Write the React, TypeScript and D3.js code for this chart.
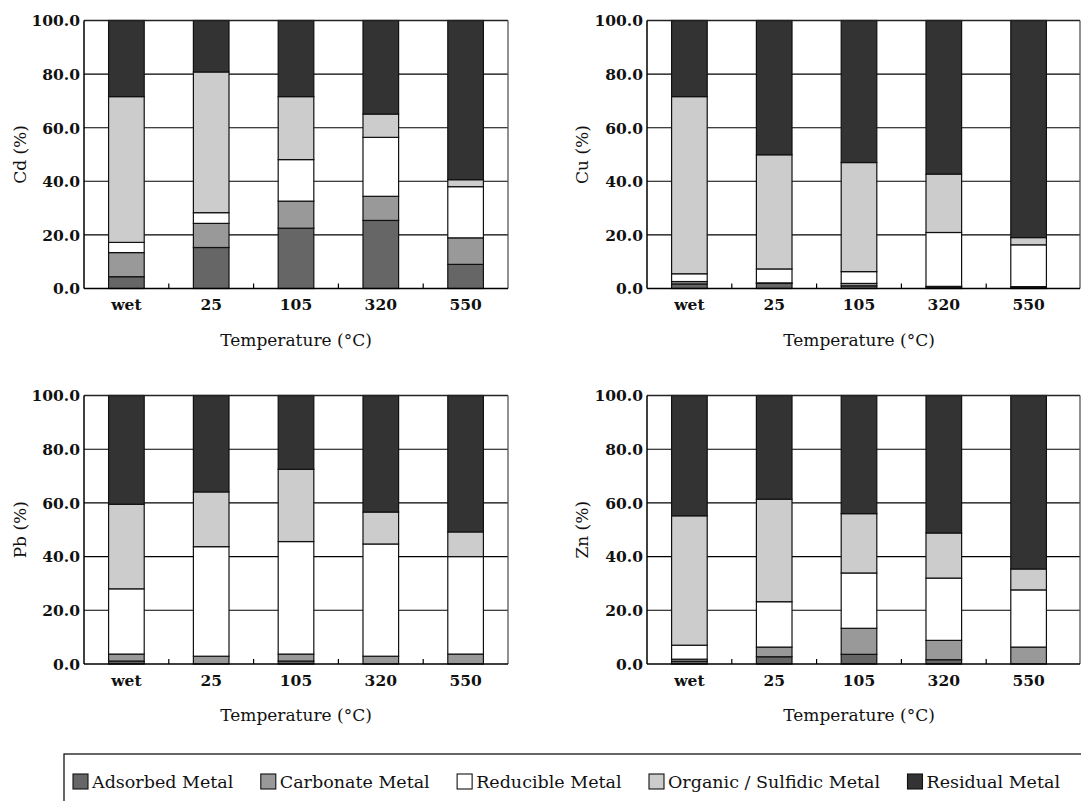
import React, { useEffect, useRef } from 'react';
import * as d3 from 'd3';

const categories = ['wet', '25', '105', '320', '550'];
const fractionNames = ['Adsorbed Metal', 'Carbonate Metal', 'Reducible Metal', 'Organic / Sulfidic Metal', 'Residual Metal'];
const fractionColors = ['#666666', '#999999', '#ffffff', '#cccccc', '#333333'];
const yTicks = [0, 20, 40, 60, 80, 100];
const xTitle = 'Temperature (°C)';

const cdAdsorbed = [4.4, 15.3, 22.5, 25.4, 9.0];
const cdCarbonate = [9.0, 9.0, 10.1, 9.0, 9.9];
const cdReducible = [3.8, 4.0, 15.5, 22.0, 19.1];
const cdOrganic = [54.4, 52.5, 23.5, 8.7, 2.6];
const cdResidual = [28.4, 19.2, 28.4, 34.9, 59.4];

const cuAdsorbed = [1.7, 1.9, 1.0, 0.5, 0.3];
const cuCarbonate = [0.9, 0.2, 0.9, 0.3, 0.4];
const cuReducible = [2.9, 5.2, 4.4, 20.1, 15.6];
const cuOrganic = [66.1, 42.6, 40.7, 21.8, 2.7];
const cuResidual = [28.4, 50.1, 53.0, 57.3, 81.0];

const pbAdsorbed = [1.1, 0, 1.1, 0, 0];
const pbCarbonate = [2.6, 2.9, 2.6, 2.9, 3.7];
const pbReducible = [24.3, 40.8, 41.9, 41.8, 36.3];
const pbOrganic = [31.5, 20.4, 26.9, 11.9, 9.2];
const pbResidual = [40.5, 35.9, 27.5, 43.4, 50.8];

const znAdsorbed = [1.0, 2.7, 3.6, 1.6, 0];
const znCarbonate = [0.8, 3.6, 9.7, 7.2, 6.3];
const znReducible = [5.2, 16.9, 20.6, 23.2, 21.3];
const znOrganic = [48.2, 38.2, 22.1, 16.8, 7.8];
const znResidual = [44.8, 38.6, 44.0, 51.2, 64.6];

const panels = [
  { label: 'Cd (%)', series: [cdAdsorbed, cdCarbonate, cdReducible, cdOrganic, cdResidual] },
  { label: 'Cu (%)', series: [cuAdsorbed, cuCarbonate, cuReducible, cuOrganic, cuResidual] },
  { label: 'Pb (%)', series: [pbAdsorbed, pbCarbonate, pbReducible, pbOrganic, pbResidual] },
  { label: 'Zn (%)', series: [znAdsorbed, znCarbonate, znReducible, znOrganic, znResidual] },
];

const W = 1081;
const H = 801;
const FONT = "'DejaVu Serif', serif";

export default function App() {
  const ref = useRef<SVGSVGElement>(null);

  useEffect(() => {
    const svg = d3.select(ref.current);
    svg.selectAll('*').remove();
    svg.append('rect').attr('width', W).attr('height', H).attr('fill', '#fff');

    const layouts = [
      { left: 84, right: 508, top: 20.5, bottom: 288.5, frameRight: 508, labelX: 20 },
      { left: 647, right: 1071, top: 20.5, bottom: 288.5, frameRight: 1080, labelX: 582 },
      { left: 84, right: 508, top: 395.5, bottom: 664, frameRight: 508, labelX: 20 },
      { left: 647, right: 1071, top: 395.5, bottom: 664, frameRight: 1080, labelX: 582 },
    ];

    panels.forEach((p, i) => {
      const L = layouts[i];
      const x = d3.scaleBand<string>().domain(categories).range([L.left, L.right]).paddingInner(0.58).paddingOuter(0.29);
      const y = d3.scaleLinear().domain([0, 100]).range([L.bottom, L.top]);
      const g = svg.append('g');

      g.selectAll('line.grid')
        .data(yTicks.slice(1, -1))
        .join('line')
        .attr('x1', L.left)
        .attr('x2', L.frameRight)
        .attr('y1', (d) => y(d))
        .attr('y2', (d) => y(d))
        .attr('stroke', '#000')
        .attr('stroke-width', 1.1);

      const table = categories.map((c, ci) => {
        const row: any = { cat: c };
        fractionNames.forEach((f, fi) => (row[f] = p.series[fi][ci]));
        return row;
      });
      const stacked = d3.stack<any>().keys(fractionNames)(table);
      stacked.forEach((layer, li) => {
        g.append('g')
          .selectAll('rect')
          .data(layer.filter((d) => d[1] - d[0] > 0))
          .join('rect')
          .attr('x', (d) => x(d.data.cat) as number)
          .attr('width', x.bandwidth())
          .attr('y', (d) => y(d[1]))
          .attr('height', (d) => y(d[0]) - y(d[1]))
          .attr('fill', fractionColors[li])
          .attr('stroke', '#111')
          .attr('stroke-width', 1.2);
      });

      // frame
      g.append('line').attr('x1', L.left).attr('x2', L.frameRight).attr('y1', L.top).attr('y2', L.top).attr('stroke', '#222').attr('stroke-width', 1.3);
      g.append('line').attr('x1', L.frameRight).attr('x2', L.frameRight).attr('y1', L.top).attr('y2', L.bottom).attr('stroke', '#555').attr('stroke-width', 1.3);
      g.append('line').attr('x1', L.left).attr('x2', L.left).attr('y1', L.top).attr('y2', L.bottom).attr('stroke', '#000').attr('stroke-width', 1.5);
      g.append('line').attr('x1', L.left).attr('x2', L.frameRight).attr('y1', L.bottom).attr('y2', L.bottom).attr('stroke', '#000').attr('stroke-width', 1.5);

      // category boundary ticks
      const step = x.step();
      g.selectAll('line.xt')
        .data(categories.slice(1))
        .join('line')
        .attr('x1', (_, k) => L.left + step * (k + 1))
        .attr('x2', (_, k) => L.left + step * (k + 1))
        .attr('y1', L.bottom)
        .attr('y2', L.bottom - 5)
        .attr('stroke', '#000')
        .attr('stroke-width', 1.2);

      // y tick labels
      g.selectAll('text.yl')
        .data(yTicks)
        .join('text')
        .attr('x', L.left - 4)
        .attr('y', (d) => y(d) + 5.8)
        .attr('text-anchor', 'end')
        .attr('font-family', FONT)
        .attr('font-weight', 'bold')
        .attr('font-size', 15.5)
        .attr('fill', '#111')
        .text((d) => d3.format('.1f')(d));

      // x tick labels
      g.selectAll('text.xl')
        .data(categories)
        .join('text')
        .attr('x', (d) => (x(d) as number) + x.bandwidth() / 2)
        .attr('y', L.bottom + 21.5)
        .attr('text-anchor', 'middle')
        .attr('font-family', FONT)
        .attr('font-weight', 'bold')
        .attr('font-size', 15.5)
        .attr('fill', '#111')
        .text((d) => d);

      // axis titles
      g.append('text')
        .attr('transform', `translate(${L.labelX},${(L.top + L.bottom) / 2}) rotate(-90)`)
        .attr('text-anchor', 'middle')
        .attr('dominant-baseline', 'central')
        .attr('font-family', FONT)
        .attr('font-size', 17)
        .attr('fill', '#111')
        .text(p.label);

      g.append('text')
        .attr('x', (L.left + L.right) / 2)
        .attr('y', L.bottom + 57)
        .attr('text-anchor', 'middle')
        .attr('font-family', FONT)
        .attr('font-size', 17)
        .attr('fill', '#111')
        .text(xTitle);
    });

    // legend
    const legTop = 754;
    const legBottom = 802;
    const lg = svg.append('g');
    lg.append('rect')
      .attr('x', 64)
      .attr('y', legTop)
      .attr('width', 1090 - 64)
      .attr('height', legBottom - legTop)
      .attr('fill', '#fff')
      .attr('stroke', '#000')
      .attr('stroke-width', 1.2);

    const sw = 15;
    const swY = 774;
    const items = lg.selectAll('g.item').data(fractionNames).join('g');
    const texts = items
      .append('text')
      .attr('font-family', FONT)
      .attr('font-size', 17.5)
      .attr('fill', '#111')
      .attr('y', 788)
      .text((d) => d);
    const widths: number[] = [];
    texts.each(function () {
      widths.push((this as SVGTextElement).getComputedTextLength());
    });
    const startX = 73;
    const endX = 1060;
    const used = widths.reduce((a, b) => a + b + sw + 4, 0);
    const gap = (endX - startX - used) / (fractionNames.length - 1);
    let cx = startX;
    items.each(function (d, k) {
      const it = d3.select(this);
      it.insert('rect', 'text')
        .attr('x', cx)
        .attr('y', swY)
        .attr('width', sw)
        .attr('height', sw)
        .attr('fill', fractionColors[k])
        .attr('stroke', '#111')
        .attr('stroke-width', 1.1);
      it.select('text').attr('x', cx + sw + 4);
      cx += sw + 4 + widths[k] + gap;
    });
  }, []);

  return (
    <svg
      ref={ref}
      width={W}
      height={H}
      style={{ position: 'absolute', left: 0, top: 0, display: 'block' }}
    />
  );
}
